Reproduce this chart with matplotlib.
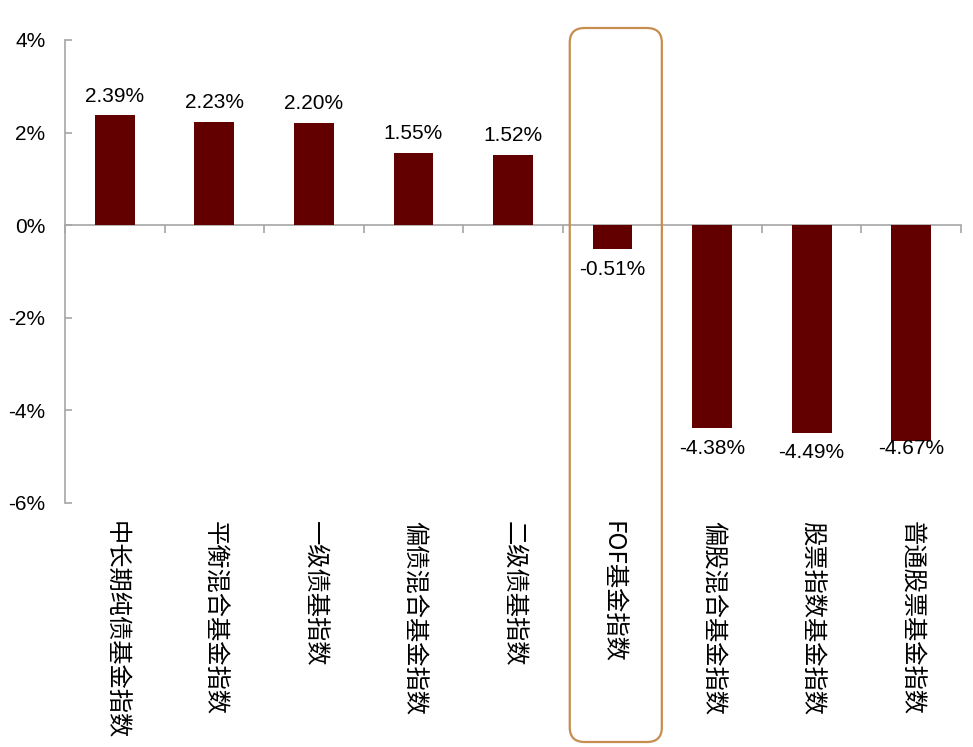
import matplotlib
matplotlib.use("Agg")
import matplotlib.pyplot as plt
from matplotlib.patches import FancyBboxPatch
import matplotlib.transforms as mtransforms

categories = ["中长期纯债基金指数", "平衡混合基金指数", "一级债基指数", "偏债混合基金指数",
              "二级债基指数", "FOF基金指数", "偏股混合基金指数", "股票指数基金指数",
              "普通股票基金指数"]
values = [2.39, 2.23, 2.20, 1.55, 1.52, -0.51, -4.38, -4.49, -4.67]
value_labels = ["2.39%", "2.23%", "2.20%", "1.55%", "1.52%", "-0.51%", "-4.38%", "-4.49%", "-4.67%"]
yticks = [-6, -4, -2, 0, 2, 4]
ytick_labels = ["-6%", "-4%", "-2%", "0%", "2%", "4%"]
highlight_index = 5
# label offsets in points (style)
label_offsets = [13, 14, 14, 14, 14, -15, -15, -14, -5]

bar_color = "#620000"
axis_color = "#A6A6A6"
box_color = "#C68E4E"

fig = plt.figure(figsize=(9.73, 7.47), dpi=100)
ax = fig.add_axes([65/973, 1 - 503/747, 896/973, 463/747])

x = list(range(len(categories)))
bars = ax.bar(x, values, width=0.4, color=bar_color, zorder=3)

ax.set_xlim(-0.5, len(categories) - 0.5)
ax.set_ylim(-6, 4)

for s in ["top", "right"]:
    ax.spines[s].set_visible(False)
ax.spines["left"].set_color(axis_color)
ax.spines["left"].set_linewidth(1.2)
ax.spines["bottom"].set_position(("data", 0))
ax.spines["bottom"].set_color(axis_color)
ax.spines["bottom"].set_linewidth(1.2)

ax.set_yticks(yticks)
ax.set_yticklabels(ytick_labels, fontsize=15, family="Liberation Sans")
ax.tick_params(axis="y", direction="in", length=5, color=axis_color, width=1.2, pad=14)

boundaries = [i - 0.5 for i in range(len(categories) + 1)]
ax.set_xticks(boundaries)
ax.set_xticklabels([""] * len(boundaries))
ax.tick_params(axis="x", direction="out", length=6, color=axis_color, width=1.2)

for xi, v, lab, off in zip(x, values, value_labels, label_offsets):
    ax.annotate(lab, xy=(xi, v), xytext=(0, off), textcoords="offset points",
                ha="center", va="center", fontsize=15, family="Liberation Sans", zorder=4)

for xi, cat in zip(x, categories):
    ax.annotate(cat, xy=(xi, 0), xycoords=("data", "axes fraction"),
                xytext=(0, -13), textcoords="offset points",
                ha="center", va="top", rotation=-90, fontsize=17.5,
                family=["Noto Sans CJK SC", "DejaVu Sans"], annotation_clip=False)

# highlight box around the FOF category
trans = mtransforms.blended_transform_factory(ax.transData, fig.transFigure)
box = FancyBboxPatch((highlight_index - 0.43, 1 - 742/747), 0.925, (742 - 28)/747,
                     boxstyle="round,pad=0,rounding_size=0.15", mutation_aspect=0.13,
                     transform=trans, fill=False, edgecolor=box_color, linewidth=1.6,
                     clip_on=False, zorder=5)
fig.add_artist(box)

fig.savefig("out.png", dpi=100)
